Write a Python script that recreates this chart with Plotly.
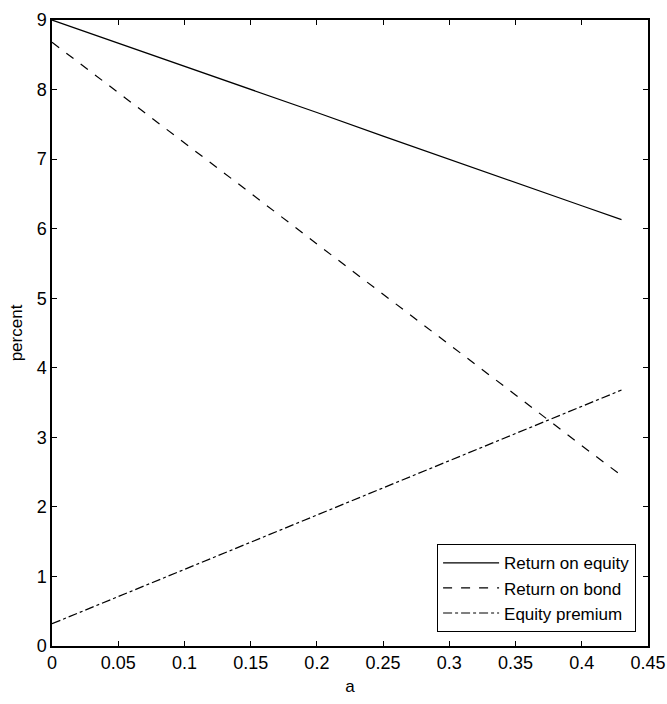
import plotly.graph_objects as go

a_vals = [0.0, 0.05, 0.1, 0.15, 0.2, 0.25, 0.3, 0.35, 0.4, 0.43]
ret_equity = [9.00, 8.67, 8.33, 8.00, 7.67, 7.33, 7.00, 6.67, 6.33, 6.13]
ret_bond = [8.68, 7.96, 7.23, 6.51, 5.78, 5.06, 4.33, 3.61, 2.88, 2.45]
eq_premium = [0.32, 0.71, 1.10, 1.49, 1.89, 2.27, 2.67, 3.06, 3.45, 3.68]

series_names = ["Return on equity", "Return on bond", "Equity premium"]
x_ticks = [0, 0.05, 0.1, 0.15, 0.2, 0.25, 0.3, 0.35, 0.4, 0.45]
x_tick_labels = ["0", "0.05", "0.1", "0.15", "0.2", "0.25", "0.3", "0.35", "0.4", "0.45"]
y_ticks = [0, 1, 2, 3, 4, 5, 6, 7, 8, 9]

font_family = "Liberation Sans, Arial, sans-serif"

fig = go.Figure()
fig.add_trace(go.Scatter(x=a_vals, y=ret_equity, mode="lines", name=series_names[0],
                         line=dict(color="black", width=1.2, dash="solid")))
fig.add_trace(go.Scatter(x=a_vals, y=ret_bond, mode="lines", name=series_names[1],
                         line=dict(color="black", width=1.2, dash="dash")))
fig.add_trace(go.Scatter(x=a_vals, y=eq_premium, mode="lines", name=series_names[2],
                         line=dict(color="black", width=1.2, dash="dashdot")))

axis_common = dict(showgrid=False, zeroline=False, showline=True, linecolor="black",
                   linewidth=1.5, mirror="ticks", ticks="inside", ticklen=5,
                   tickcolor="black", tickwidth=1, automargin=False,
                   tickfont=dict(family=font_family, size=18, color="black"))

fig.update_layout(
    width=667, height=704,
    margin=dict(l=52, r=19, t=20, b=58),
    paper_bgcolor="white", plot_bgcolor="white",
    font=dict(family=font_family, color="black"),
    xaxis=dict(range=[0, 0.45], tickvals=x_ticks, ticktext=x_tick_labels,
               title=dict(text="a", font=dict(family=font_family, size=17), standoff=8),
               **axis_common),
    yaxis=dict(range=[0, 9], tickvals=y_ticks,
               title=dict(text="percent", font=dict(family=font_family, size=17), standoff=10),
               **axis_common),
    legend=dict(x=0.98, y=0.022, xanchor="right", yanchor="bottom",
                bordercolor="black", borderwidth=1, bgcolor="white",
                font=dict(family=font_family, size=17, color="black"),
                tracegroupgap=0, itemwidth=56),
    showlegend=True,
)

fig.write_html("out.html")
